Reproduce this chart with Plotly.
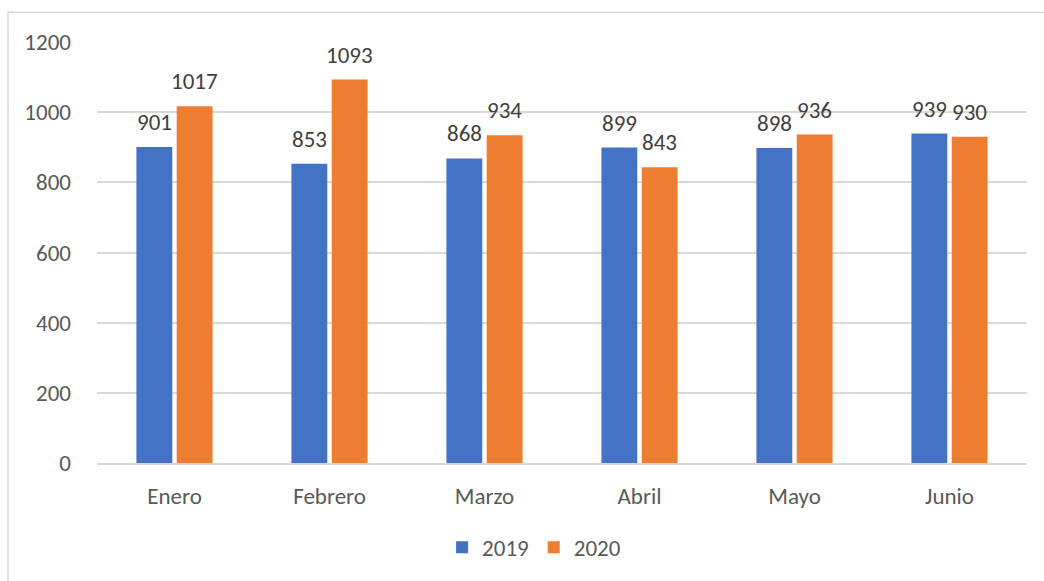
import plotly.graph_objects as go

# ── data ─────────────────────────────────────────────────────────────
months = ["Enero", "Febrero", "Marzo", "Abril", "Mayo", "Junio"]
values_2019 = [901, 853, 868, 899, 898, 939]
values_2020 = [1017, 1093, 934, 843, 936, 930]
y_ticks = [0, 200, 400, 600, 800, 1000, 1200]

BLUE = "#4472C4"
ORANGE = "#ED7D31"
FONT = "Carlito, Calibri, Lato, sans-serif"

fig = go.Figure()
series = [("2019", values_2019, BLUE, -20), ("2020", values_2020, ORANGE, 20)]
for name, vals, color, shift in series:
    fig.add_trace(
        go.Bar(
            name=name,
            x=months,
            y=vals,
            marker={"color": color, "line": {"width": 0}},
        )
    )
    # data labels sit a bit higher above the bar than plotly's own outside text
    for m, v in zip(months, vals):
        fig.add_annotation(
            x=m,
            y=v,
            text=str(v),
            showarrow=False,
            xshift=shift,
            yshift=25,
            yanchor="middle",
            font={"size": 23, "color": "#404040", "family": FONT},
        )

# chart-area border (Excel style), only left and top edges visible
fig.add_shape(
    type="rect",
    xref="paper",
    yref="paper",
    x0=-0.0957,
    x1=1.2,
    y0=-0.5,
    y1=1.0709,
    line={"color": "#D9D9D9", "width": 1.5},
    layer="below",
)

fig.update_layout(
    width=1044,
    height=581,
    margin={"l": 97, "r": 17, "t": 42, "b": 116},
    paper_bgcolor="white",
    plot_bgcolor="white",
    barmode="group",
    bargap=0.48,
    bargroupgap=0.11,
    font={"family": FONT, "size": 23, "color": "#595959"},
    showlegend=True,
    legend={
        "orientation": "h",
        "x": 0.47,
        "xanchor": "center",
        "y": -0.2,
        "yanchor": "middle",
        "font": {"size": 23, "color": "#595959"},
        "itemwidth": 30,
    },
)
fig.update_xaxes(
    showgrid=False,
    showline=True,
    linecolor="#D9D9D9",
    linewidth=1.5,
    ticks="",
    ticklabelstandoff=12,
    tickfont={"size": 23, "color": "#595959"},
)
fig.update_yaxes(
    range=[0, 1200],
    tickvals=y_ticks,
    showgrid=True,
    gridcolor="#D9D9D9",
    gridwidth=1.5,
    zeroline=False,
    showline=False,
    ticks="",
    ticklabelstandoff=25,
    tickfont={"size": 23, "color": "#595959"},
)

fig.write_html(
    "out.html",
    config={"displayModeBar": False},
    post_script="document.body.style.margin='0';",
)
